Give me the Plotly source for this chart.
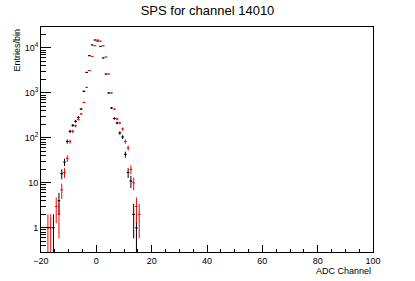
import numpy as np
import plotly.graph_objects as go

# bin centers (bin width 1) and contents
black_x = [-15.5, -13.5, -12.5, -11.5, -10.5, -9.5, -8.5, -7.5, -6.5, -5.5, -4.5, -3.5, -2.5, -1.5, -0.5,
           0.5, 1.5, 2.5, 3.5, 4.5, 5.5, 6.5, 7.5, 8.5, 9.5, 10.5, 11.5, 12.5, 13.5, 14.5]
black_y = [1, 4, 16, 29, 83, 140, 190, 234, 287, 440, 1090, 2870, 6740, 11660, 15060,
           14300, 10860, 6000, 2630, 1000, 464, 270, 215, 129, 105, 43, 17, 11, 2, 1]

red_x = [-17.5, -16.5, -14.5, -13.5, -12.5, -11.5, -10.5, -9.5, -8.5, -7.5, -6.5, -5.5, -4.5, -3.5, -2.5,
         -1.5, -0.5, 0.5, 1.5, 2.5, 3.5, 4.5, 5.5, 6.5, 7.5, 8.5, 9.5, 10.5, 11.5, 12.5, 13.5, 14.5, 15.5]
red_y = [1, 1, 3, 2, 7, 17, 35, 83, 140, 186, 258, 340, 615, 1330, 3160,
         6500, 11250, 15000, 14200, 11250, 6300, 2630, 1000, 440, 265, 215, 158, 83, 60, 20, 10, 3, 2]

x_ticks = [-20, 0, 20, 40, 60, 80, 100]
y_tickvals = [1, 10, 100, 1000, 10000]
y_ticktext = ["1", "10", "10<sup>2</sup>", "10<sup>3</sup>", "10<sup>4</sup>"]

title = "SPS for channel 14010"
x_title = "ADC Channel"
y_title = "Entries/bin"

FONT = "Liberation Sans, Arial, Helvetica, sans-serif"


def hist_trace(xs, ys, color):
    ys = np.array(ys, dtype=float)
    err = np.sqrt(ys)
    lo = np.minimum(err, ys - 1e-3)
    return go.Scatter(
        x=xs, y=ys, mode="markers",
        marker=dict(size=1, color=color),
        error_x=dict(type="constant", value=0.5, width=0, thickness=1, color=color),
        error_y=dict(type="data", array=err, arrayminus=lo, width=0, thickness=1, color=color),
        showlegend=False, hoverinfo="skip",
    )


fig = go.Figure()
fig.add_trace(hist_trace(black_x, black_y, "#000000"))
fig.add_trace(hist_trace(red_x, red_y, "#ff0000"))

fig.update_layout(
    width=415, height=281,
    margin=dict(l=41, r=42, t=27, b=29, pad=0),
    paper_bgcolor="white", plot_bgcolor="white",
    font=dict(family=FONT, size=9, color="black"),
    title=dict(text=title, x=0.5, xanchor="center", y=1 - 10 / 281, yanchor="middle",
               font=dict(size=13, family=FONT, color="black")),
)
fig.update_xaxes(
    range=[-20, 100], tickvals=x_ticks, ticks="inside", ticklen=7, tickwidth=1, tickcolor="black",
    showline=True, linecolor="black", linewidth=1, mirror=True, showgrid=False, zeroline=False,
    minor=dict(dtick=5, ticks="inside", ticklen=3.5, tickcolor="black", showgrid=False),
    tickfont=dict(size=9, family=FONT), automargin=False,
)
fig.update_yaxes(
    type="log", range=[np.log10(0.29), np.log10(29300)],
    tickvals=y_tickvals, ticktext=y_ticktext, ticks="inside", ticklen=10, tickwidth=1, tickcolor="black",
    showline=True, linecolor="black", linewidth=1, mirror=True, showgrid=False, zeroline=False,
    minor=dict(dtick="D1", ticks="inside", ticklen=5, tickcolor="black", showgrid=False),
    tickfont=dict(size=9, family=FONT), automargin=False,
)
fig.add_annotation(text=x_title, xref="paper", yref="paper", x=1, y=0, xanchor="right", yanchor="top",
                   yshift=-12, showarrow=False, font=dict(size=9, family=FONT))
fig.add_annotation(text=y_title, xref="paper", yref="paper", x=0, y=1, xanchor="center", yanchor="top",
                   xshift=-25, textangle=-90, showarrow=False, font=dict(size=9, family=FONT))

fig.write_html("out.html", config={"displayModeBar": False},
               post_script="document.body.style.margin='0';document.body.style.overflow='hidden';")
